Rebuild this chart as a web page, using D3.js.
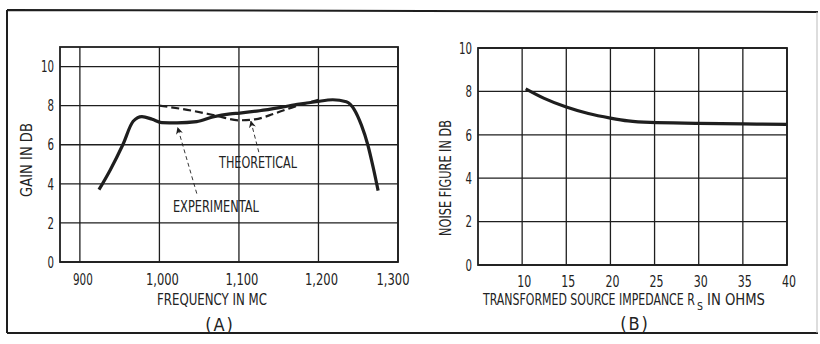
<!DOCTYPE html>
<html>
<head>
<meta charset="utf-8">
<script src="https://cdn.jsdelivr.net/npm/d3@7"></script>
<style>
  body { margin: 0; background: #fff; }
  text { font-family: "DejaVu Sans Condensed", "DejaVu Sans", sans-serif; fill: #222; }
</style>
</head>
<body>
<div id="chart"></div>
<script>
// ---- data ----
// (A) gain vs frequency
const freqExperimental = [924, 938, 954, 967, 978, 991, 1003, 1022, 1047, 1067, 1089, 1101, 1126, 1151, 1176, 1197, 1218, 1235, 1245, 1254, 1262, 1269, 1275];
const gainExperimental = [3.7, 4.7, 6.0, 7.2, 7.44, 7.3, 7.13, 7.12, 7.18, 7.42, 7.58, 7.62, 7.74, 7.9, 8.08, 8.2, 8.3, 8.2, 7.8, 7.0, 6.0, 4.8, 3.65];
const freqTheoretical = [1000, 1040, 1070, 1100, 1120, 1145, 1170, 1200];
const gainTheoretical = [8.0, 7.75, 7.5, 7.25, 7.3, 7.6, 7.95, 8.3];
const xTicksA = [900, 1000, 1100, 1200, 1300];
const xTickLabelsA = ["900", "1,000", "1,100", "1,200", "1,300"];
const yTicksA = [0, 2, 4, 6, 8, 10];

// (B) noise figure vs source impedance
const impedance = [10.4, 12.5, 15, 17.5, 20, 22, 24.5, 30, 35, 40];
const noiseFigure = [8.12, 7.68, 7.28, 6.98, 6.77, 6.64, 6.57, 6.53, 6.5, 6.48];
const xTicksB = [10, 15, 20, 25, 30, 35, 40];
const xTickLabelsB = ["10", "15", "20", "25", "30", "35", "40"];
const yTicksB = [0, 2, 4, 6, 8, 10];

const ink = "#1e1e1e";

const svg = d3.select("#chart")
    .append("svg")
    .attr("width", 820)
    .attr("height", 344);

// outer frame of the figure
svg.append("path")
    .attr("d", "M7,10 L818,12 M7,10 L7,333 M7,333 L818,333")
    .attr("fill", "none")
    .attr("stroke", ink)
    .attr("stroke-width", 2);
svg.append("line")
    .attr("x1", 817).attr("y1", 12).attr("x2", 817).attr("y2", 333)
    .attr("stroke", "#bbb").attr("stroke-width", 1);

// arrow head marker
svg.append("defs").append("marker")
    .attr("id", "arrow")
    .attr("viewBox", "0 0 10 10")
    .attr("refX", 9).attr("refY", 5)
    .attr("markerWidth", 7).attr("markerHeight", 7)
    .attr("markerUnits", "userSpaceOnUse")
    .attr("orient", "auto")
  .append("path")
    .attr("d", "M0,0 L10,5 L0,10 L3,5 Z")
    .attr("fill", ink);

// narrow lettering: squeeze each label to a fixed width per character
function narrow(sel, perChar) {
    sel.attr("textLength", function () { return this.textContent.length * perChar; })
        .attr("lengthAdjust", "spacingAndGlyphs");
}

// place a text and squeeze it horizontally to a given width
function label(g, str, x, y, width, opts = {}) {
    const t = g.append("text")
        .attr("text-anchor", opts.anchor || "middle")
        .attr("font-size", opts.size || "15px")
        .text(str);
    const w = t.node().getComputedTextLength();
    const k = width / w;
    t.attr("transform", `translate(${x},${y}) rotate(${opts.rotate || 0}) scale(${k},1)`);
    return t;
}

// draws a framed grid panel, returns the group
function panel(x, y, xTicks, yTicks) {
    const g = svg.append("g");
    const [x0, x1] = x.range();
    const [y0, y1] = y.range();

    g.selectAll("line.vgrid")
    .data(xTicks)
    .join("line")
        .attr("class", "vgrid")
        .attr("x1", d => x(d)).attr("x2", d => x(d))
        .attr("y1", y0).attr("y2", y1)
        .attr("stroke", ink).attr("stroke-width", 1.3);

    g.selectAll("line.hgrid")
    .data(yTicks)
    .join("line")
        .attr("class", "hgrid")
        .attr("x1", x0).attr("x2", x1)
        .attr("y1", d => y(d)).attr("y2", d => y(d))
        .attr("stroke", ink).attr("stroke-width", 1.3);

    g.append("rect")
        .attr("x", x0).attr("y", y1)
        .attr("width", x1 - x0).attr("height", y0 - y1)
        .attr("fill", "none")
        .attr("stroke", ink).attr("stroke-width", 1.8);

    g.selectAll("text.ylab")
    .data(yTicks)
    .join("text")
        .attr("class", "ylab")
        .attr("x", x0 - 6)
        .attr("y", d => y(d))
        .attr("dy", "0.36em")
        .attr("text-anchor", "end")
        .attr("font-size", "16px")
        .text(d => d)
        .call(narrow, 6.5);
    return g;
}

// ---------- (A) ----------
const xA = d3.scaleLinear().domain([875, 1300]).range([60, 398]);
const yA = d3.scaleLinear().domain([0, 11]).range([262, 47]);
const gA = panel(xA, yA, xTicksA, yTicksA);

gA.selectAll("text.xlab")
.data(xTicksA)
.join("text")
    .attr("class", "xlab")
    .attr("x", (d, i) => xA(d) + (i === xTicksA.length - 1 ? -5 : 3))
    .attr("y", 285)
    .attr("text-anchor", "middle")
    .attr("font-size", "16px")
    .text((d, i) => xTickLabelsA[i])
    .call(narrow, 6.6);

const lineA = d3.line()
    .x(d => xA(d[0]))
    .y(d => yA(d[1]))
    .curve(d3.curveMonotoneX);

gA.append("path")
    .datum(d3.zip(freqTheoretical, gainTheoretical))
    .attr("d", lineA)
    .attr("fill", "none")
    .attr("stroke", ink)
    .attr("stroke-width", 2.2)
    .attr("stroke-dasharray", "8,4");

gA.append("path")
    .datum(d3.zip(freqExperimental, gainExperimental))
    .attr("d", lineA)
    .attr("fill", "none")
    .attr("stroke", ink)
    .attr("stroke-width", 3.2)
    .attr("stroke-linejoin", "round");

// leader arrows
const leaders = [
    { from: [1047, 3.5], to: [1023, 6.87] },
    { from: [1125, 5.62], to: [1115, 7.2] }
];
gA.selectAll("line.leader")
.data(leaders)
.join("line")
    .attr("class", "leader")
    .attr("x1", d => xA(d.from[0])).attr("y1", d => yA(d.from[1]))
    .attr("x2", d => xA(d.to[0])).attr("y2", d => yA(d.to[1]))
    .attr("stroke", ink).attr("stroke-width", 0.9)
    .attr("stroke-dasharray", "4,3")
    .attr("marker-end", "url(#arrow)");

label(gA, "THEORETICAL", xA(1124), yA(5.08) + 5.5, 78);
label(gA, "EXPERIMENTAL", xA(1071), yA(2.82) + 5.5, 86);
label(gA, "FREQUENCY IN MC", 212, 305, 110);
label(gA, "GAIN IN DB", 32, 160, 74, { rotate: -90 });
gA.append("text")
    .attr("x", 220).attr("y", 331)
    .attr("text-anchor", "middle")
    .attr("font-size", "18px")
    .attr("letter-spacing", "2px")
    .text("(A)");

// ---------- (B) ----------
const xB = d3.scaleLinear().domain([5, 40]).range([478, 787]);
const yB = d3.scaleLinear().domain([0, 10]).range([265, 48]);
const gB = panel(xB, yB, xTicksB, yTicksB);

gB.selectAll("text.xlab")
.data(xTicksB)
.join("text")
    .attr("class", "xlab")
    .attr("x", d => xB(d) + 2)
    .attr("y", 287)
    .attr("text-anchor", "middle")
    .attr("font-size", "16px")
    .text((d, i) => xTickLabelsB[i])
    .call(narrow, 7);

const lineB = d3.line()
    .x(d => xB(d[0]))
    .y(d => yB(d[1]))
    .curve(d3.curveMonotoneX);

gB.append("path")
    .datum(d3.zip(impedance, noiseFigure))
    .attr("d", lineB)
    .attr("fill", "none")
    .attr("stroke", ink)
    .attr("stroke-width", 3.2);

// x title of (B), split so the subscript S sits below the line
label(gB, "TRANSFORMED SOURCE IMPEDANCE R", 483, 305, 212, { anchor: "start" });
label(gB, "S", 697, 310, 6, { anchor: "start", size: "11px" });
label(gB, "IN OHMS", 707, 305, 58, { anchor: "start" });

label(gB, "NOISE FIGURE IN DB", 451, 178, 116, { rotate: -90 });
gB.append("text")
    .attr("x", 635).attr("y", 330)
    .attr("text-anchor", "middle")
    .attr("font-size", "18px")
    .attr("letter-spacing", "2px")
    .text("(B)");
</script>
</body>
</html>
